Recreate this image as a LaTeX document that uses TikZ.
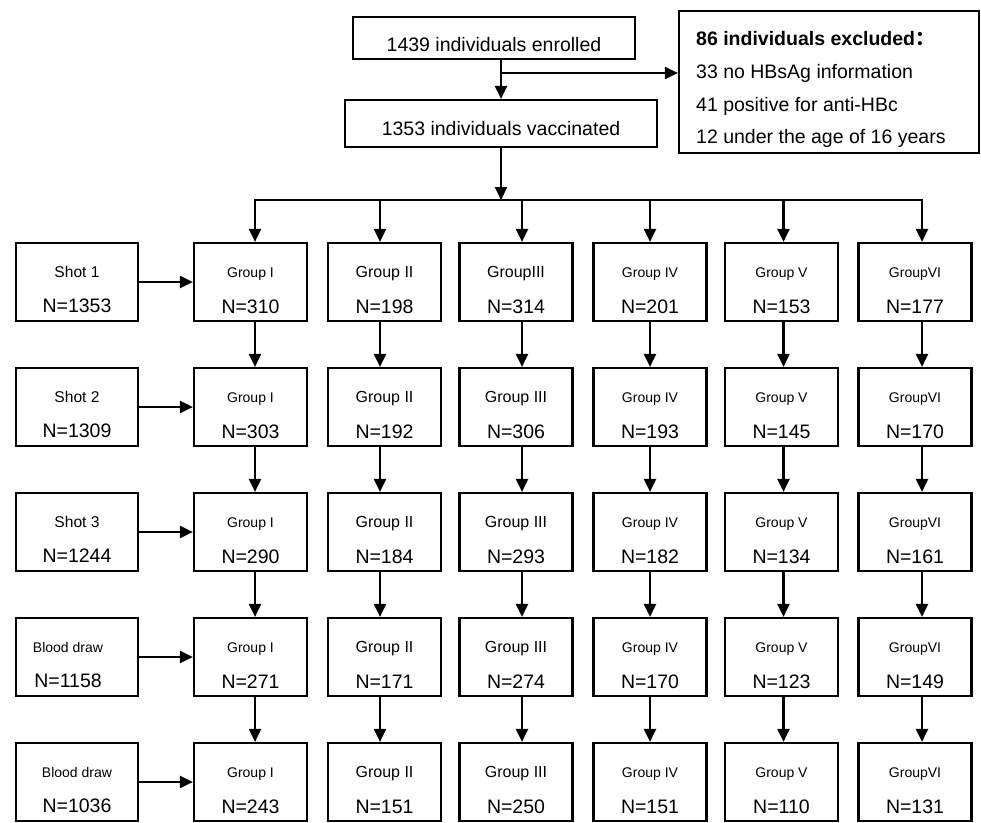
\documentclass[tikz,border=0pt]{standalone}
\usepackage{fontspec}
\setmainfont{Liberation Sans}
\newfontfamily\cjk{Noto Sans CJK SC}
\usetikzlibrary{arrows.meta}
\tikzset{
  box/.style={draw, line width=2.2pt, inner sep=0pt, minimum width=113pt, minimum height=78pt},
  shotbox/.style={box, minimum width=122pt},
  topbox/.style={draw, line width=2.2pt, inner sep=0pt},
  flow/.style={line width=2.2pt, -{Triangle[length=13pt, width=12pt]}},
  txt/.style={inner sep=0pt, anchor=base, font=\fontsize{19.5}{22}\selectfont}}

\begin{document}
\begin{tikzpicture}[x=1pt, y=-1pt]
  \useasboundingbox (0, 0) rectangle (981, 822);

  \node [topbox, minimum width=282pt, minimum height=42pt] (enr) at (494, 38) {};
  \node [txt] (enr-t) at ([yshift=-13pt]enr.center) {1439 individuals enrolled};
  \node [topbox, minimum width=312pt, minimum height=47pt] (vac) at (501, 123.5) {};
  \node [txt] (vac-t) at ([yshift=-11.5pt]vac.center) {1353 individuals vaccinated};

  \node [topbox, minimum width=300pt, minimum height=142pt] (exc) at (829, 82) {};
  \node [txt, anchor=base west] (exc-1) at (696, 45) {\bfseries 86 individuals excluded{\cjk ：}};
  \node [txt, anchor=base west] (exc-2) at (696, 78) {33 no HBsAg information};
  \node [txt, anchor=base west] (exc-3) at (696, 111) {41 positive for anti-HBc};
  \node [txt, anchor=base west] (exc-4) at (696, 143) {12 under the age of 16 years};

  \coordinate (split) at (502, 73);
  \coordinate (bus) at (501, 200);
  \draw [flow] (vac.north |- enr.south) -- (vac.north);
  \draw [flow] (split) -- (split -| exc.west);
  \draw [flow] (vac.south) -- (bus);

  % groups, one column at a time
  \foreach \c/\x/\dx/\nm/\fs/\nums in {
      1/250.5/4.5/{Group I}/14/{310,303,290,271,243},
      2/384.5/-4.5/{Group II}/16/{198,192,184,171,151},
      3/516/6/{\ifnum\r=1 GroupIII\else Group III\fi}/16/{314,306,293,274,250},
      4/650/0/{Group IV}/14/{201,193,182,170,151},
      5/781.5/2/{Group V}/14/{153,145,134,123,110},
      6/915/7/{GroupVI}/14/{177,170,161,149,131}} {
    \coordinate (drop-\c) at (\x+\dx, 200);
    \foreach \num [count=\r] in \nums {
      \pgfmathsetmacro\y{282+125*(\r-1)}
      \node [box] (g-\r-\c) at (\x, \y) {};
      \node [txt, font=\fontsize{\fs}{18}\selectfont] (g-\r-\c-t) at ([yshift=5pt]g-\r-\c.center) {\nm};
      \node [txt] (g-\r-\c-n) at ([yshift=-31pt]g-\r-\c.center) {N=\num};
      \ifnum\r=1
        \draw [flow] (drop-\c) -- ([xshift=\dx pt]g-\r-\c.north);
      \else
        \pgfmathtruncatemacro\pr{\r-1}
        \draw [flow] ([xshift=\dx pt]g-\pr-\c.south) -- ([xshift=\dx pt]g-\r-\c.north);
      \fi
    }
  }
  \draw [line width=2.2pt, line cap=rect] (drop-1) -- (drop-6);

  \foreach \r/\lab/\fs/\num/\sx in {1/Shot 1/15.6/1353/0, 2/Shot 2/15.6/1309/0,
      3/Shot 3/15.6/1244/0, 4/Blood draw/14/1158/-9, 5/Blood draw/14/1036/0} {
    \pgfmathsetmacro\y{282+125*(\r-1)}
    \node [shotbox] (s-\r) at (77, \y) {};
    \node [txt, font=\fontsize{\fs}{18}\selectfont] (s-\r-t) at ([xshift=\sx pt, yshift=5pt]s-\r.center) {\lab};
    \node [txt] (s-\r-n) at ([xshift=\sx pt, yshift=-30pt]s-\r.center) {N=\num};
    \draw [flow] (s-\r) -- (g-\r-1);
  }
\end{tikzpicture}
\end{document}
